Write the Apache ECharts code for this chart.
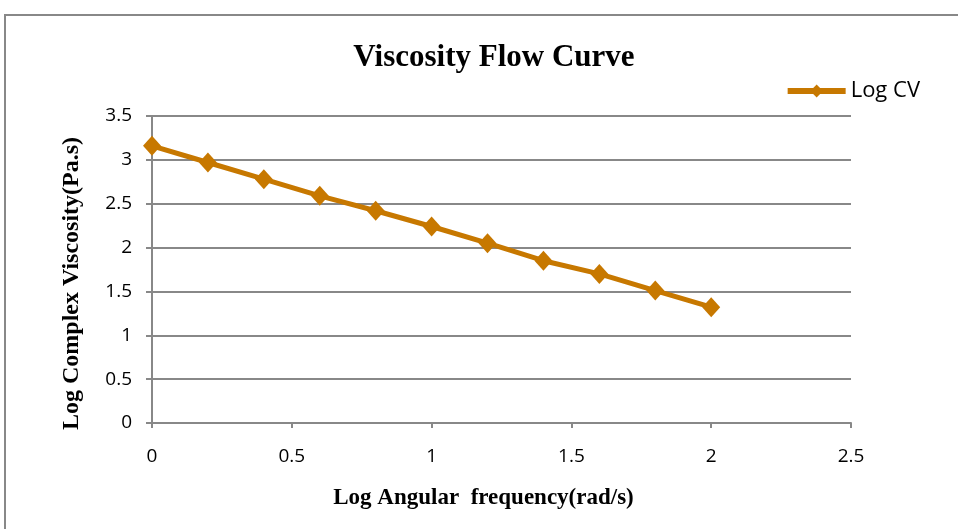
<!DOCTYPE html>
<html><head><meta charset="utf-8">
<script src="https://cdn.jsdelivr.net/npm/echarts@6/dist/echarts.min.js"></script>
<style>html,body{margin:0;padding:0;background:#fff}#c{width:958px;height:529px}</style>
</head><body><div id="c"></div>
<script>
const xValues = [0, 0.2, 0.4, 0.6, 0.8, 1.0, 1.2, 1.4, 1.6, 1.8, 2.0];
const logCV = [3.16, 2.97, 2.78, 2.59, 2.42, 2.24, 2.05, 1.85, 1.70, 1.51, 1.32];
const seriesName = 'Log CV';
const titleText = 'Viscosity Flow Curve';
const xName = 'Log Angular  frequency(rad/s)';
const yName = 'Log Complex Viscosity(Pa.s)';

const chart = echarts.init(document.getElementById('c'));
const lbl = {color:'#000', fontFamily:'"Open Sans", "Liberation Sans", sans-serif', fontSize:19};
chart.setOption({
  animation:false,
  title:{text:titleText, left:489, textAlign:'center', top:37, textStyle:{fontFamily:'"Liberation Serif", serif', fontWeight:'bold', fontSize:31, color:'#000'}},
  legend:{data:[seriesName], right:33, top:75, itemWidth:58, itemHeight:16, itemGap:3,
    lineStyle:{width:6}, textStyle:{fontFamily:'"Open Sans", "Liberation Sans", sans-serif', fontSize:22, color:'#000'}},
  grid:{left:152, right:107, top:116, bottom:106},
  xAxis:{type:'value', min:0, max:2.5, interval:0.5, name:xName, nameLocation:'middle', nameGap:64,
    nameTextStyle:{fontFamily:'"Liberation Serif", serif', fontWeight:'bold', fontSize:23, color:'#000', padding:[0,36,0,0]},
    axisLine:{lineStyle:{color:'#888', width:2}}, axisTick:{show:true, length:5, lineStyle:{color:'#888', width:2}},
    axisLabel:Object.assign({margin:24}, lbl), splitLine:{show:false}},
  yAxis:{type:'value', min:0, max:3.5, interval:0.5, name:yName, nameLocation:'middle', nameGap:68,
    nameTextStyle:{fontFamily:'"Liberation Serif", serif', fontWeight:'bold', fontSize:24, color:'#000', padding:[0,28,0,0]},
    axisLine:{show:true, lineStyle:{color:'#888', width:2}}, axisTick:{show:true, length:6, lineStyle:{color:'#888', width:2}},
    axisLabel:Object.assign({margin:20}, lbl), splitLine:{lineStyle:{color:'#888', width:2}}},
  graphic:[{type:'polyline', silent:true, shape:{points:[[5,529],[5,15],[958,15]]}, style:{stroke:'#888', lineWidth:2, fill:null}}],
  series:[{name:seriesName, type:'line', data:xValues.map((x,i)=>[x, logCV[i]]),
    symbol:'diamond', symbolSize:[18,20], lineStyle:{color:'#C77800', width:5},
    itemStyle:{color:'#C77800'}}]
});
</script></body></html>
